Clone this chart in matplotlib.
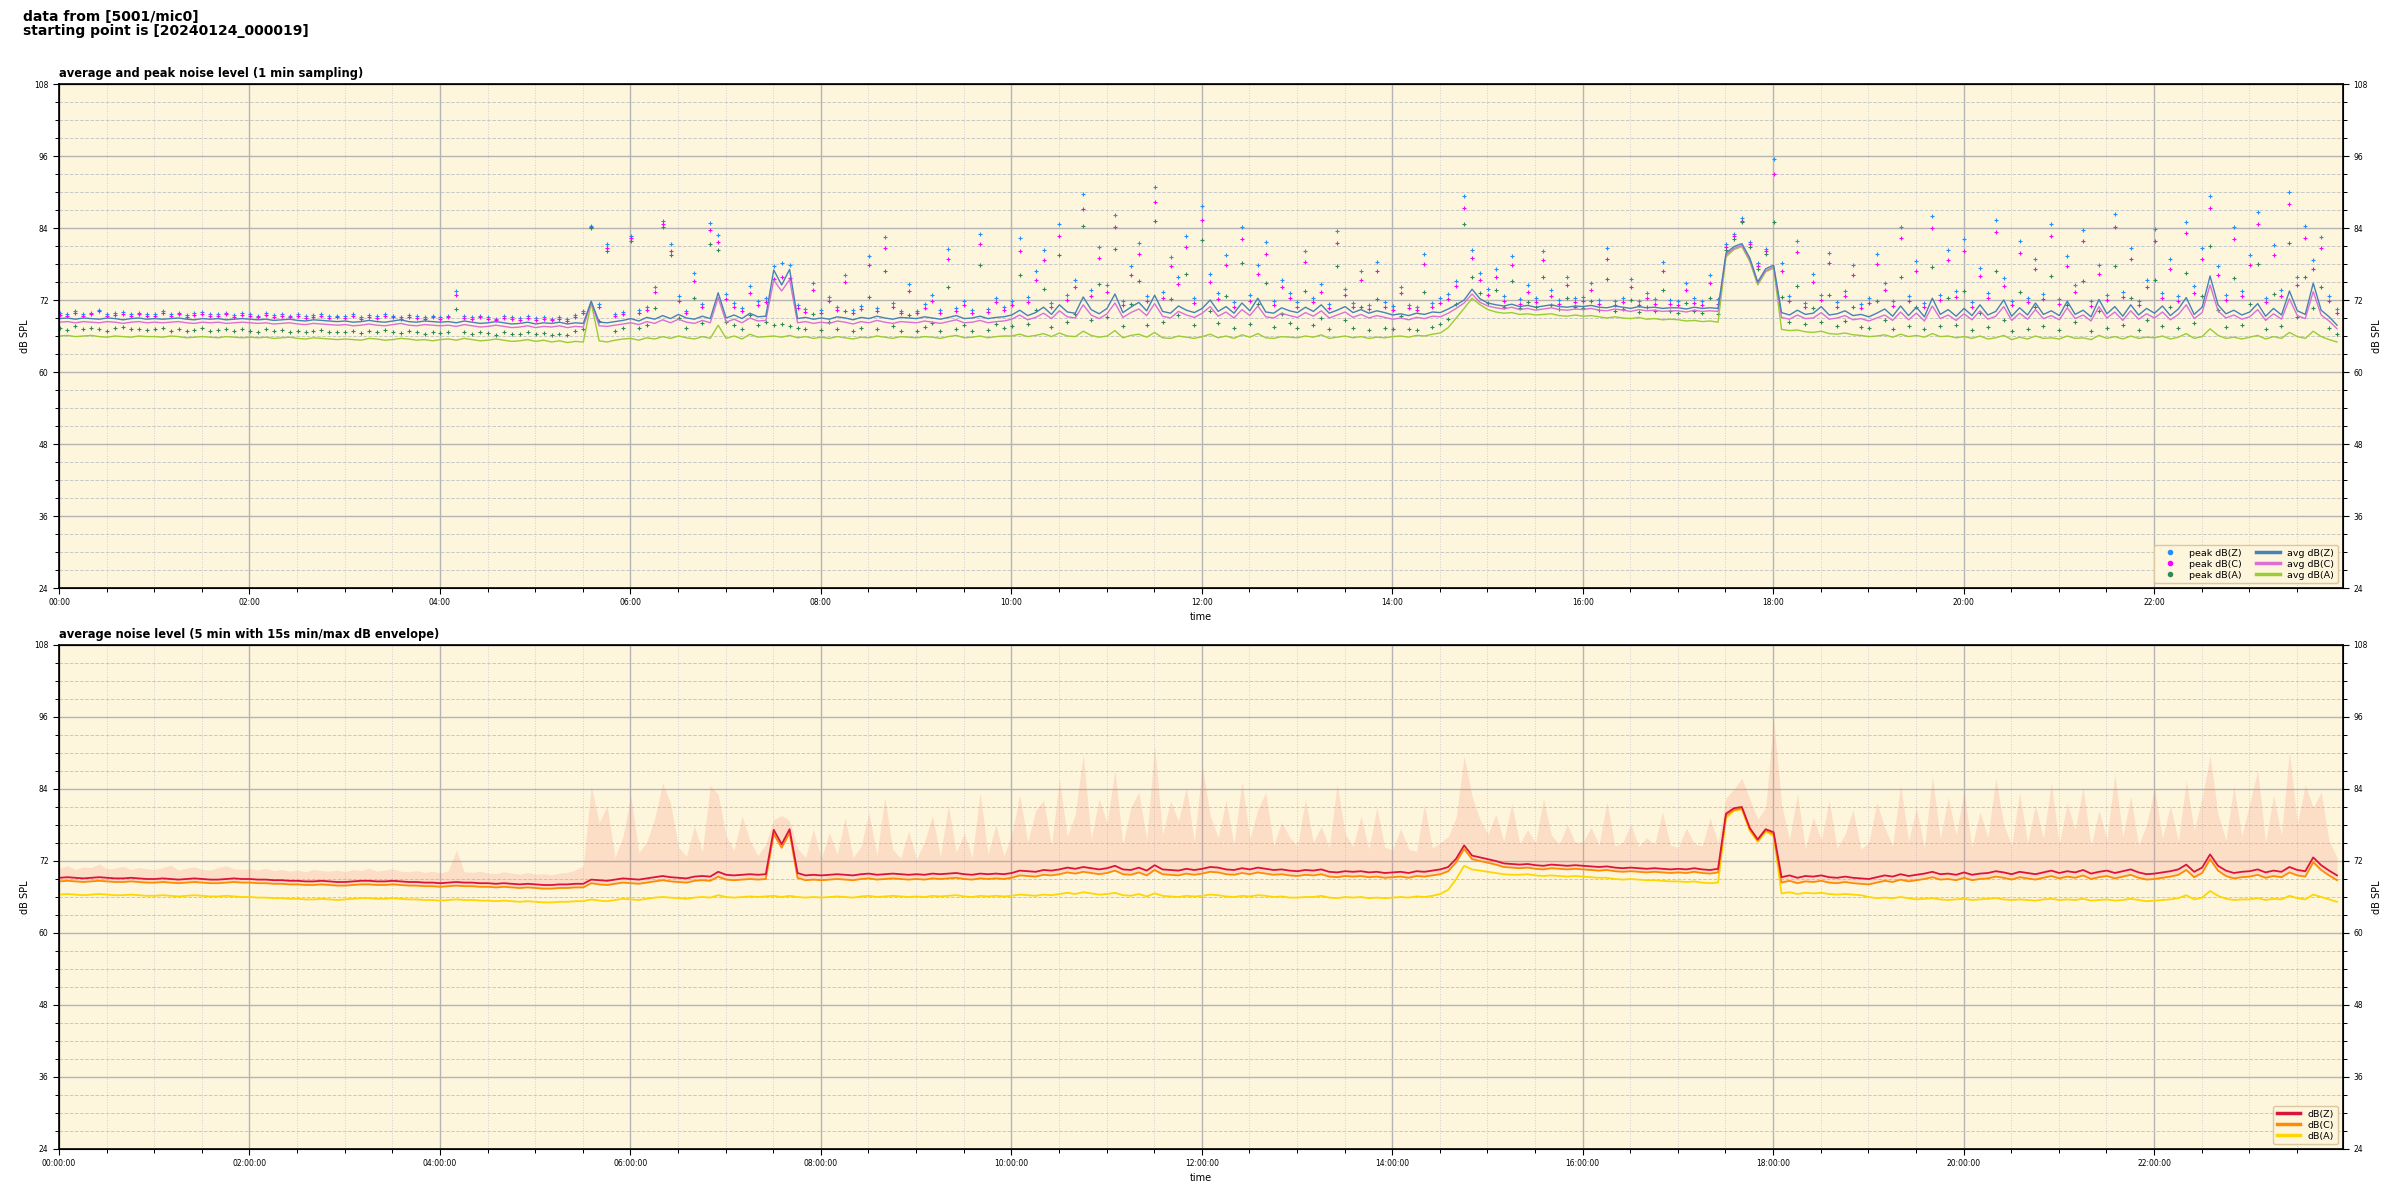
import numpy as np
import pandas as pd
import matplotlib
matplotlib.use('Agg')
import matplotlib.pyplot as plt
import matplotlib.dates as mdates
from matplotlib.ticker import MultipleLocator
from matplotlib.lines import Line2D


def vals(s):
    return np.array(s.split(), dtype=float)


# 5 min values, one line per hour (00h .. 23h)
avg_z = vals("""
68.9 69.0 68.8 69.0 68.9 68.8 69.0 68.9 68.7 68.9 69.0 68.8
68.9 68.8 68.9 69.0 68.8 68.7 68.9 68.8 68.9 68.7 68.8 68.9
68.8 68.7 68.8 68.6 68.7 68.8 68.6 68.5 68.7 68.6 68.5 68.4
68.5 68.3 68.4 68.6 68.4 68.3 68.5 68.7 68.4 68.3 68.5 68.4
68.3 68.4 68.2 68.5 68.3 68.1 68.2 68.4 68.2 68.0 68.1 68.3
68.0 68.2 68.1 68.3 68.0 68.2 68.1 71.8 68.3 68.2 68.4 68.6
68.9 68.5 69.1 68.8 69.4 68.9 69.6 69.0 68.8 69.3 68.9 73.2
69.0 69.5 68.9 69.8 69.2 69.3 77.0 74.5 77.1 68.9 69.1 68.8
69.0 68.8 69.2 69.0 68.7 69.1 68.9 69.3 69.0 68.8 69.1 69.0
68.9 69.2 69.0 68.8 69.1 69.4 68.9 69.0 69.3 68.9 69.1 69.2
69.5 70.3 69.4 69.9 70.8 69.6 71.2 70.0 69.8 72.5 70.4 69.7
70.6 73.0 69.9 70.8 71.6 70.2 72.8 70.1 69.8 71.0 70.3 69.9
70.6 72.0 70.1 70.9 69.8 71.5 70.2 72.3 70.0 69.8 70.7 70.2
69.9 70.8 70.1 71.2 69.8 70.3 70.9 69.9 70.4 69.8 70.2 69.9
69.5 69.7 69.4 69.8 69.6 70.0 69.9 70.5 71.2 72.0 73.8 72.2
71.5 71.2 71.0 71.3 70.9 71.1 70.8 71.0 71.2 70.9 70.8 71.0
70.9 71.1 70.8 70.7 71.0 70.8 70.6 70.9 70.7 70.8 70.6 70.7
70.7 70.5 70.8 70.6 70.7 70.6 79.8 80.9 81.4 79.0 75.0 77.2
77.8 69.9 69.5 70.3 69.6 69.8 70.9 69.5 69.7 70.2 69.4 69.6
69.2 69.8 70.5 69.3 71.0 69.4 70.8 69.2 72.3 69.6 70.4 69.3
70.6 69.4 71.2 69.5 70.1 72.0 69.3 70.7 69.5 71.5 69.6 70.2
69.4 71.8 69.6 70.3 69.2 72.1 69.7 70.9 69.3 71.2 69.5 70.6
69.8 71.0 69.4 70.5 72.4 69.6 70.8 76.0 71.2 69.7 70.3 69.5
70.0 71.4 69.3 70.6 69.5 73.5 70.2 69.6 74.8 70.3 69.2 67.8
""")

avg_c = vals("""
68.3 68.4 68.2 68.4 68.3 68.2 68.4 68.3 68.1 68.3 68.4 68.2
68.3 68.2 68.3 68.4 68.2 68.1 68.3 68.2 68.3 68.1 68.2 68.3
68.2 68.1 68.2 68.0 68.1 68.2 68.0 67.9 68.1 68.0 67.9 67.8
67.9 67.7 67.8 68.0 67.8 67.7 67.9 68.1 67.8 67.7 67.9 67.8
67.7 67.8 67.6 67.9 67.7 67.5 67.6 67.8 67.6 67.4 67.5 67.7
67.4 67.6 67.5 67.7 67.4 67.6 67.5 71.6 67.7 67.6 67.8 68.0
68.2 67.9 68.4 68.1 68.7 68.2 68.8 68.3 68.1 68.6 68.2 72.4
68.3 68.8 68.2 69.0 68.5 68.6 75.3 73.5 75.4 68.2 68.4 68.1
68.3 68.1 68.5 68.3 68.0 68.4 68.2 68.6 68.3 68.1 68.4 68.3
68.2 68.5 68.3 68.1 68.4 68.7 68.2 68.3 68.6 68.2 68.4 68.5
68.8 69.5 68.7 69.1 69.8 68.9 70.2 69.2 69.0 71.2 69.5 68.9
69.7 71.5 69.1 69.9 70.5 69.4 71.4 69.3 69.0 70.1 69.5 69.1
69.8 70.9 69.3 70.0 69.0 70.4 69.4 71.0 69.2 69.0 69.8 69.4
69.1 69.9 69.3 70.2 69.0 69.5 70.0 69.1 69.6 69.0 69.4 69.1
68.8 69.0 68.7 69.1 68.9 69.3 69.2 69.8 70.6 71.5 73.0 71.6
71.0 70.7 70.5 70.8 70.4 70.6 70.3 70.5 70.7 70.4 70.3 70.5
70.4 70.6 70.3 70.2 70.5 70.3 70.1 70.4 70.2 70.3 70.1 70.2
70.2 70.0 70.3 70.1 70.2 70.1 79.5 80.6 81.1 78.7 74.8 76.9
77.5 69.1 68.8 69.5 68.9 69.0 69.9 68.8 69.0 69.4 68.7 68.9
68.5 69.0 69.5 68.6 70.0 68.7 69.8 68.5 71.0 68.9 69.5 68.6
69.7 68.7 70.2 68.8 69.3 70.9 68.6 69.8 68.8 70.4 68.9 69.4
68.7 70.7 68.9 69.5 68.5 70.9 69.0 70.0 68.6 70.2 68.8 69.7
69.0 70.0 68.7 69.6 71.2 68.9 69.9 74.5 70.2 69.0 69.5 68.8
69.2 70.4 68.6 69.7 68.8 72.2 69.4 68.9 73.4 69.5 68.5 67.2
""")

avg_a = vals("""
66.0 66.1 65.9 66.0 66.1 65.9 65.8 66.0 65.9 65.8 66.0 65.9
65.9 65.8 66.0 65.9 65.7 65.8 65.9 65.8 65.7 65.9 65.8 65.7
65.8 65.7 65.8 65.6 65.7 65.8 65.6 65.5 65.7 65.6 65.5 65.4
65.5 65.4 65.3 65.6 65.5 65.3 65.4 65.6 65.5 65.3 65.4 65.2
65.4 65.5 65.3 65.6 65.4 65.2 65.3 65.5 65.3 65.1 65.2 65.4
65.1 65.3 65.0 65.2 64.9 65.1 65.0 71.5 65.2 65.0 65.3 65.5
65.6 65.3 65.7 65.5 65.9 65.6 66.0 65.7 65.5 65.9 65.6 67.8
65.6 66.0 65.5 66.3 65.8 65.9 66.0 65.8 66.1 65.7 65.9 65.6
65.8 65.6 65.9 65.7 65.5 65.8 65.7 66.0 65.8 65.6 65.9 65.8
65.7 65.9 65.8 65.6 65.9 66.1 65.7 65.8 66.0 65.7 65.9 66.0
66.0 66.3 65.9 66.1 66.4 65.9 66.5 66.0 65.9 66.8 66.1 65.8
66.0 66.9 65.7 66.1 66.3 65.8 66.6 65.7 65.6 66.0 65.8 65.6
65.9 66.3 65.7 66.0 65.6 66.2 65.8 66.4 65.7 65.6 65.9 65.8
65.7 66.0 65.8 66.2 65.6 65.8 66.0 65.7 65.9 65.6 65.8 65.7
65.9 66.0 65.8 66.1 66.0 66.3 66.5 67.4 69.0 70.6 72.3 71.2
70.4 70.0 69.8 69.9 69.6 69.7 69.5 69.6 69.7 69.4 69.3 69.5
69.3 69.4 69.2 69.0 69.2 69.0 68.9 69.1 68.8 68.9 68.7 68.8
68.7 68.5 68.6 68.4 68.5 68.3 79.2 80.4 80.9 78.4 74.5 76.7
77.3 67.1 66.9 67.0 66.7 66.6 66.8 66.4 66.3 66.5 66.2 66.1
65.9 66.0 66.2 65.8 66.3 65.9 66.1 65.8 66.4 65.9 66.0 65.7
65.9 65.6 66.0 65.5 65.7 66.1 65.4 65.8 65.5 66.0 65.6 65.7
65.5 66.0 65.6 65.7 65.4 66.1 65.6 65.9 65.5 66.0 65.6 65.8
65.7 66.0 65.5 65.8 66.4 65.6 65.9 67.2 66.1 65.6 65.8 65.5
65.8 66.1 65.5 65.9 65.6 66.6 65.9 65.6 66.8 65.9 65.4 65.0
""")

peak_z = vals("""
69.8 69.6 70.2 69.7 69.9 70.4 69.6 69.8 70.0 69.7 69.9 69.6
69.7 70.1 69.6 69.9 69.5 69.8 70.0 69.6 69.7 69.9 69.5 69.8
69.6 69.4 69.8 69.5 69.7 69.4 69.6 69.3 69.5 69.7 69.3 69.4
69.3 69.6 69.2 69.5 69.3 69.7 69.4 69.2 69.5 69.3 69.1 69.4
69.2 69.4 73.5 69.3 69.1 69.4 69.2 68.9 69.3 69.1 69.0 69.3
69.0 69.2 68.9 69.1 68.8 69.5 70.1 84.4 71.3 81.4 69.6 70.0
82.6 70.3 70.8 74.2 85.1 81.3 72.6 70.2 76.5 71.4 84.8 82.8
73.0 71.5 70.6 74.3 71.8 72.4 77.6 78.2 77.9 71.2 70.5 74.8
70.3 72.5 70.8 76.2 70.4 71.0 79.3 70.7 82.5 71.5 70.2 74.6
70.2 71.3 72.8 70.4 80.5 70.6 71.9 70.3 83.0 70.5 72.4 70.9
71.8 82.4 72.5 76.8 80.3 71.5 84.6 72.9 75.4 89.6 73.6 80.8
74.5 86.2 71.9 77.6 81.5 72.6 90.9 73.4 79.2 75.8 82.7 72.3
87.6 76.4 73.1 79.5 71.6 84.2 72.8 77.9 81.6 71.9 75.3 73.2
71.6 80.1 72.4 74.6 71.4 83.5 73.9 71.5 76.8 71.2 78.4 71.6
71.0 74.2 71.2 70.9 79.6 71.5 72.3 73.0 75.2 89.3 80.4 76.5
73.8 77.2 72.6 79.4 72.1 74.5 72.3 80.2 73.6 72.0 75.8 72.4
72.5 74.8 72.0 80.6 71.9 72.4 75.5 71.8 73.2 72.1 78.3 72.0
71.8 74.9 72.3 71.9 76.2 72.1 81.3 83.0 85.6 81.7 78.2 80.5
95.5 78.2 72.6 81.8 71.5 76.4 72.8 79.9 71.6 73.5 77.8 71.4
72.3 79.6 74.8 71.8 84.2 72.6 78.5 71.5 86.0 72.9 80.3 73.5
82.1 71.6 77.4 73.2 85.4 75.6 71.9 81.8 72.4 78.8 73.0 84.6
72.1 79.3 74.5 83.7 71.8 77.9 72.9 86.3 73.4 80.6 71.9 75.4
83.8 73.2 78.9 72.6 85.0 74.4 80.7 89.3 77.6 72.8 84.1 73.5
79.5 86.7 72.4 81.2 73.6 90.0 75.8 84.3 78.6 82.5 72.7 70.5
""")

peak_c = vals("""
69.5 69.4 69.9 69.4 69.6 70.1 69.3 69.5 69.7 69.4 69.6 69.3
69.4 69.8 69.3 69.6 69.2 69.5 69.7 69.3 69.4 69.6 69.2 69.5
69.3 69.1 69.5 69.2 69.4 69.1 69.3 69.0 69.2 69.4 69.0 69.1
69.0 69.3 68.9 69.2 69.0 69.4 69.1 68.9 69.2 69.0 68.8 69.1
68.9 69.1 72.8 69.0 68.8 69.1 68.9 68.6 69.0 68.8 68.7 69.0
68.7 68.9 68.6 68.8 68.5 69.2 69.8 84.2 70.8 80.6 69.3 69.7
82.3 69.8 70.3 73.4 84.7 80.2 71.8 69.8 75.2 70.9 83.6 81.7
72.1 70.9 70.1 73.2 71.2 71.6 75.5 75.8 75.6 70.6 70.0 73.6
69.9 71.8 70.3 75.0 69.9 70.5 77.8 70.2 80.6 70.9 69.8 73.5
69.8 70.7 71.9 69.9 78.8 70.1 71.2 69.8 81.4 70.0 71.6 70.4
71.1 80.2 71.7 75.3 78.6 70.8 82.7 72.0 74.2 87.2 72.6 79.0
73.3 84.1 71.2 76.2 79.7 71.8 88.4 72.4 77.6 74.6 80.8 71.5
85.3 75.0 72.2 77.8 70.9 82.1 71.9 76.3 79.7 71.1 74.1 72.3
70.9 78.4 71.6 73.4 70.7 81.5 72.8 70.8 75.4 70.5 76.8 70.9
70.4 73.2 70.6 70.3 78.0 70.9 71.5 72.2 74.3 87.4 79.0 75.3
72.8 75.8 71.8 77.9 71.4 73.4 71.6 78.6 72.6 71.3 74.5 71.7
71.8 73.6 71.3 78.9 71.2 71.7 74.2 71.1 72.3 71.4 76.8 71.3
71.1 73.7 71.5 71.2 74.9 71.4 80.8 82.6 85.2 81.3 77.7 80.1
93.0 76.8 71.8 80.0 70.8 75.0 72.0 78.2 70.9 72.6 76.2 70.7
71.5 78.0 73.6 71.0 82.3 71.8 76.9 70.8 84.0 72.0 78.6 72.5
80.2 70.9 76.0 72.3 83.4 74.3 71.1 79.9 71.6 77.2 72.1 82.6
71.3 77.6 73.3 81.8 71.0 76.3 72.0 84.2 72.5 78.8 71.1 74.2
81.9 72.3 77.2 71.8 83.1 73.2 78.9 87.4 76.1 72.0 82.2 72.6
77.8 84.6 71.6 79.5 72.7 88.0 74.5 82.4 77.1 80.6 71.9 69.8
""")

peak_a = vals("""
67.3 67.0 67.6 67.2 67.4 67.1 66.9 67.3 67.5 67.1 67.2 67.0
67.1 67.4 66.9 67.2 66.8 67.0 67.3 66.9 67.0 67.2 66.8 67.1
66.9 66.7 67.1 66.8 67.0 66.7 66.9 66.6 66.8 67.0 66.6 66.7
66.6 66.9 66.5 66.8 66.6 67.0 66.7 66.5 66.8 66.6 66.4 66.7
66.5 66.7 70.5 66.6 66.4 66.7 66.5 66.2 66.6 66.4 66.3 66.6
66.3 66.5 66.2 66.4 66.1 66.8 67.2 84.0 68.5 80.2 66.9 67.3
81.8 67.4 67.9 70.6 84.2 79.5 69.0 67.3 72.4 68.2 81.4 80.3
68.4 67.8 67.2 69.5 67.9 68.3 67.8 68.0 67.7 67.4 67.1 69.6
67.0 68.3 67.2 70.2 66.9 67.4 72.5 67.1 76.8 67.6 66.9 69.5
66.8 67.5 68.2 66.9 74.2 67.1 67.9 66.8 77.9 67.0 68.0 67.3
67.6 76.1 68.0 70.4 73.8 67.5 79.5 68.3 69.6 84.3 68.7 74.6
69.2 80.5 67.6 71.3 75.2 67.9 85.1 68.4 72.2 69.5 76.4 67.8
82.0 70.2 68.1 72.6 67.3 78.2 68.0 71.4 74.9 67.5 69.6 68.2
67.3 73.5 67.8 69.0 67.2 77.6 68.6 67.3 70.8 67.0 72.1 67.4
67.1 69.4 67.2 67.0 73.4 67.5 68.0 68.9 71.4 84.6 75.8 73.2
71.5 73.6 70.9 75.2 70.7 71.6 70.8 75.9 71.2 70.5 72.4 70.8
70.6 71.8 70.3 75.5 70.2 70.5 72.0 70.0 70.8 70.1 73.6 70.1
69.9 71.5 70.1 69.8 72.3 69.7 80.3 82.2 85.0 80.8 77.2 79.6
85.0 72.5 68.4 74.3 68.0 70.6 68.3 72.8 67.6 68.5 70.9 67.5
67.4 71.8 68.6 67.2 75.9 67.6 70.8 67.1 77.5 67.7 72.3 67.9
73.5 67.0 69.8 67.5 76.8 68.6 66.9 73.4 67.2 70.9 67.6 76.0
67.0 71.2 68.3 75.1 66.9 70.2 67.4 77.6 67.8 72.4 67.0 68.6
75.3 67.6 70.8 67.3 76.5 68.1 72.6 81.0 70.4 67.5 75.6 67.8
71.4 78.0 67.1 73.0 67.6 81.5 69.2 75.8 70.6 74.1 67.3 66.3
""")

# lower panel: 5 min average and 15 s max envelope
lvl_z = vals("""
69.2 69.3 69.2 69.1 69.2 69.3 69.2 69.1 69.1 69.2 69.1 69.0
69.0 69.1 69.0 68.9 69.0 69.1 69.0 68.9 68.9 69.0 69.1 69.0
69.0 68.9 68.9 68.8 68.8 68.7 68.7 68.6 68.6 68.7 68.6 68.5
68.5 68.6 68.7 68.7 68.6 68.6 68.7 68.6 68.5 68.5 68.4 68.4
68.3 68.4 68.5 68.4 68.4 68.3 68.3 68.2 68.3 68.2 68.1 68.2
68.1 68.0 68.0 68.1 68.1 68.2 68.2 68.9 68.8 68.7 68.9 69.1
69.0 68.9 69.1 69.3 69.5 69.3 69.2 69.1 69.4 69.5 69.4 70.2
69.7 69.6 69.7 69.8 69.7 69.8 77.2 74.8 77.3 70.0 69.6 69.7
69.6 69.7 69.8 69.7 69.6 69.8 69.9 69.7 69.8 69.9 69.8 69.7
69.8 69.7 69.9 69.8 69.9 70.0 69.8 69.7 69.9 69.8 69.9 69.8
70.0 70.4 70.3 70.2 70.5 70.4 70.6 70.9 70.7 71.0 70.8 70.6
70.8 71.2 70.6 70.5 70.9 70.4 71.3 70.6 70.5 70.4 70.7 70.5
70.7 71.0 70.9 70.6 70.5 70.8 70.6 70.9 70.7 70.5 70.6 70.4
70.3 70.5 70.4 70.6 70.2 70.1 70.3 70.2 70.3 70.1 70.2 70.0
70.1 70.2 70.0 70.3 70.2 70.4 70.6 71.0 72.4 74.6 72.9 72.6
72.3 72.0 71.6 71.5 71.4 71.5 71.3 71.2 71.4 71.3 71.2 71.3
71.2 71.1 71.0 71.1 70.9 70.8 70.9 70.8 70.7 70.8 70.7 70.6
70.7 70.6 70.8 70.6 70.5 70.7 79.9 80.8 81.0 77.5 75.6 77.3
76.8 69.3 69.6 69.2 69.5 69.4 69.6 69.3 69.2 69.4 69.2 69.1
69.0 69.3 69.6 69.4 69.8 69.5 69.7 69.9 70.2 69.8 69.9 69.7
70.1 69.7 69.9 70.0 70.3 70.1 69.8 70.2 70.0 69.8 70.1 70.4
70.0 70.3 70.1 70.5 69.9 70.2 70.4 70.0 70.3 70.6 70.1 69.8
69.9 70.1 70.3 70.6 71.4 70.2 70.9 73.1 71.2 70.4 70.0 70.2
70.3 70.6 70.1 70.4 70.2 71.0 70.5 70.3 72.6 71.3 70.4 69.6
""")

lvl_c = vals("""
68.6 68.7 68.6 68.5 68.6 68.7 68.6 68.5 68.5 68.6 68.5 68.4
68.4 68.5 68.4 68.3 68.4 68.5 68.4 68.3 68.3 68.4 68.5 68.4
68.4 68.3 68.3 68.2 68.2 68.1 68.1 68.0 68.0 68.1 68.0 67.9
67.9 68.0 68.1 68.1 68.0 68.0 68.1 68.0 67.9 67.9 67.8 67.8
67.7 67.8 67.9 67.8 67.8 67.7 67.7 67.6 67.7 67.6 67.5 67.6
67.5 67.4 67.4 67.5 67.5 67.6 67.6 68.3 68.1 68.0 68.2 68.4
68.3 68.2 68.4 68.6 68.8 68.6 68.5 68.4 68.7 68.8 68.7 69.4
68.9 68.8 68.9 69.0 68.9 69.0 76.5 74.2 76.7 69.2 68.8 68.9
68.8 68.9 69.0 68.9 68.8 69.0 69.1 68.9 69.0 69.1 69.0 68.9
69.0 68.9 69.1 69.0 69.1 69.2 69.0 68.9 69.1 69.0 69.1 69.0
69.2 69.6 69.5 69.4 69.7 69.6 69.8 70.1 69.9 70.2 70.0 69.8
70.0 70.4 69.8 69.7 70.1 69.6 70.5 69.8 69.7 69.6 69.9 69.7
69.9 70.2 70.1 69.8 69.7 70.0 69.8 70.1 69.9 69.7 69.8 69.6
69.5 69.7 69.6 69.8 69.4 69.3 69.5 69.4 69.5 69.3 69.4 69.2
69.3 69.4 69.2 69.5 69.4 69.6 69.8 70.3 71.8 74.0 72.3 72.0
71.7 71.4 71.0 70.9 70.8 70.9 70.7 70.6 70.8 70.7 70.6 70.7
70.6 70.5 70.4 70.5 70.3 70.2 70.3 70.2 70.1 70.2 70.1 70.0
70.1 70.0 70.2 70.0 69.9 70.1 79.6 80.5 80.8 77.3 75.4 77.1
76.5 68.4 68.7 68.3 68.6 68.5 68.7 68.4 68.3 68.5 68.3 68.2
68.1 68.4 68.7 68.5 68.9 68.6 68.8 69.0 69.3 68.9 69.0 68.8
69.2 68.8 69.0 69.1 69.4 69.2 68.9 69.3 69.1 68.9 69.2 69.5
69.1 69.4 69.2 69.6 69.0 69.3 69.5 69.1 69.4 69.7 69.2 68.9
69.0 69.2 69.4 69.7 70.5 69.3 70.0 72.3 70.4 69.5 69.1 69.3
69.4 69.7 69.2 69.5 69.3 70.1 69.6 69.4 71.8 70.5 69.6 68.8
""")

lvl_a = vals("""
66.4 66.5 66.4 66.3 66.4 66.5 66.4 66.3 66.3 66.4 66.3 66.2
66.2 66.3 66.2 66.1 66.2 66.3 66.2 66.1 66.1 66.2 66.1 66.0
66.0 65.9 65.9 65.8 65.8 65.7 65.7 65.6 65.6 65.7 65.6 65.5
65.6 65.7 65.8 65.8 65.7 65.7 65.8 65.7 65.6 65.6 65.5 65.5
65.4 65.5 65.6 65.5 65.5 65.4 65.4 65.3 65.4 65.3 65.2 65.3
65.2 65.1 65.1 65.2 65.2 65.3 65.3 65.6 65.4 65.3 65.5 65.7
65.6 65.5 65.7 65.9 66.0 65.9 65.8 65.7 65.9 66.0 65.9 66.3
66.0 65.9 66.0 66.1 66.0 66.1 66.2 66.0 66.2 66.0 65.9 66.0
65.9 66.0 66.1 66.0 65.9 66.1 66.2 66.0 66.1 66.2 66.1 66.0
66.1 66.0 66.2 66.1 66.2 66.3 66.1 66.0 66.2 66.1 66.2 66.1
66.2 66.4 66.3 66.2 66.4 66.3 66.5 66.7 66.5 66.8 66.6 66.4
66.5 66.7 66.3 66.2 66.5 66.1 66.6 66.2 66.1 66.0 66.2 66.1
66.2 66.4 66.3 66.1 66.0 66.2 66.1 66.3 66.2 66.0 66.1 65.9
65.9 66.0 66.0 66.2 65.9 65.8 66.0 65.9 66.0 65.8 65.9 65.8
65.9 66.0 65.9 66.1 66.0 66.2 66.5 67.2 69.0 71.2 70.6 70.4
70.2 70.0 69.8 69.7 69.7 69.8 69.6 69.5 69.6 69.5 69.4 69.5
69.4 69.3 69.2 69.2 69.0 68.9 69.0 68.9 68.8 68.8 68.7 68.6
68.6 68.5 68.6 68.4 68.3 68.4 79.2 80.4 80.6 77.0 75.2 76.9
76.2 66.6 66.8 66.5 66.7 66.6 66.7 66.5 66.4 66.5 66.4 66.3
66.0 65.8 65.9 65.8 66.0 65.8 65.6 65.7 65.8 65.6 65.5 65.6
65.7 65.5 65.6 65.7 65.8 65.6 65.5 65.6 65.5 65.4 65.6 65.7
65.5 65.6 65.5 65.7 65.4 65.5 65.6 65.4 65.5 65.7 65.5 65.3
65.4 65.5 65.6 65.8 66.3 65.6 65.9 67.0 66.2 65.7 65.5 65.6
65.6 65.8 65.5 65.7 65.6 66.2 65.8 65.6 66.4 66.0 65.6 65.2
""")

env_max = vals("""
70.8 71.2 70.6 71.0 70.9 71.5 70.7 70.8 71.1 70.6 70.9 70.7
70.6 70.9 71.3 70.5 70.8 71.0 70.6 70.5 70.9 71.2 70.7 70.6
70.7 70.5 70.8 70.4 70.6 70.3 70.5 70.2 70.6 70.4 70.3 70.5
70.2 70.6 70.4 70.8 70.3 70.5 70.7 70.3 70.2 70.4 70.1 70.3
70.0 70.4 73.8 70.2 70.1 70.3 70.0 69.9 70.2 70.0 69.8 70.1
69.8 69.9 69.7 70.0 70.1 70.5 71.2 84.5 78.4 81.2 72.6 76.1
82.8 73.4 75.2 79.1 85.0 81.6 74.3 72.8 77.9 73.6 84.6 83.1
76.2 73.8 79.5 75.4 72.9 74.8 78.9 79.6 78.7 74.1 72.6 77.3
72.4 76.8 73.1 79.2 72.6 74.4 80.1 73.0 82.6 73.9 72.5 77.0
72.3 75.2 79.6 72.8 81.3 73.5 76.7 72.6 83.4 73.2 78.1 72.9
76.4 83.0 75.2 80.4 82.1 74.6 85.6 76.1 79.8 89.8 75.7 82.4
78.3 87.2 74.8 80.9 83.5 75.6 91.2 76.4 82.0 78.6 84.3 75.2
87.8 79.6 75.9 82.1 74.8 85.3 75.7 80.6 83.4 74.6 78.5 76.0
74.5 82.3 75.1 77.8 74.2 84.8 76.6 74.4 79.5 74.0 80.9 74.3
73.8 77.4 74.0 73.6 81.4 74.2 75.0 76.1 79.3 89.5 82.8 78.9
76.5 79.8 75.3 81.6 74.9 77.2 75.0 82.4 76.3 74.8 78.1 75.1
75.2 77.6 74.7 81.9 74.5 75.1 78.2 74.4 75.9 74.7 80.2 74.6
74.3 77.5 74.9 74.5 79.2 75.1 82.5 84.0 85.8 82.3 79.0 80.9
95.8 81.4 75.6 83.2 74.1 79.3 75.5 82.1 74.2 76.4 80.6 74.0
75.1 81.8 77.6 74.5 84.8 75.3 80.9 74.2 86.2 75.7 82.6 76.4
83.5 74.3 80.2 75.9 85.8 78.1 74.6 83.4 75.1 81.3 75.8 85.0
74.8 81.7 77.2 84.3 74.5 80.4 75.6 86.6 76.1 82.8 74.6 78.1
84.2 75.9 81.3 75.3 85.4 77.1 82.5 89.6 79.8 75.5 84.5 76.2
81.6 87.1 75.1 83.0 76.3 90.3 78.2 84.7 80.9 83.5 75.4 72.6
""")

t = pd.date_range('2024-01-24 00:00:19', periods=len(avg_z), freq='5min')
t0 = pd.Timestamp('2024-01-24 00:00:00')
t1 = pd.Timestamp('2024-01-24 23:59:00')

bg = '#fdf6dd'

fig = plt.figure(figsize=(24, 12), dpi=100)
fig.text(0.0095, 0.992, 'data from [5001/mic0]\nstarting point is [20240124_000019]',
         fontsize=10, fontweight='bold', va='top', ha='left', linespacing=1.0)

ax1 = fig.add_axes([0.0246, 0.51, 0.9516, 0.42])
ax2 = fig.add_axes([0.0246, 0.0425, 0.9516, 0.42])


def style(ax, fmt):
    ax.set_facecolor(bg)
    ax.set_xlim(t0, t1)
    ax.set_ylim(24, 108)
    ax.yaxis.set_major_locator(MultipleLocator(12))
    ax.yaxis.set_minor_locator(MultipleLocator(3))
    ax.xaxis.set_major_locator(mdates.HourLocator(byhour=range(0, 24, 2)))
    ax.xaxis.set_minor_locator(mdates.MinuteLocator(byminute=[0, 30]))
    ax.xaxis.set_major_formatter(mdates.DateFormatter(fmt))
    ax.grid(which='major', color='#b4b4b4', lw=1.0, ls='-')
    ax.grid(which='minor', axis='y', color='#c8c8c8', lw=0.7, ls='--')
    ax.grid(which='minor', axis='x', color='#d0d0d0', lw=0.7, ls=':')
    ax.set_axisbelow(True)
    ax.tick_params(labelsize=5.5, length=4, width=0.8)
    ax.tick_params(which='minor', length=3, width=0.7)
    for sp in ax.spines.values():
        sp.set_linewidth(1.2)
    ax.set_xlabel('time', fontsize=7, labelpad=3)
    ax.set_ylabel('dB SPL', fontsize=7, labelpad=3)
    axr = ax.twinx()
    axr.set_ylim(24, 108)
    axr.yaxis.set_major_locator(MultipleLocator(12))
    axr.yaxis.set_minor_locator(MultipleLocator(3))
    axr.tick_params(labelsize=5.5, length=4, width=0.8)
    axr.tick_params(which='minor', length=3, width=0.7)
    axr.set_ylabel('dB SPL', fontsize=7, labelpad=3)
    return axr


style(ax1, '%H:%M')
style(ax2, '%H:%M:%S')

# top: peaks and averages
ax1.plot(t, peak_z, '+', color='dodgerblue', ms=2.5, mew=0.8)
ax1.plot(t, peak_c, '+', color='magenta', ms=2.5, mew=0.8)
ax1.plot(t, peak_a, '+', color='seagreen', ms=2.5, mew=0.8)
ax1.plot(t, avg_a, color='yellowgreen', lw=1.0)
ax1.plot(t, avg_c, color='orchid', lw=1.0)
ax1.plot(t, avg_z, color='steelblue', lw=1.0)
ax1.set_title('average and peak noise level (1 min sampling)', loc='left',
              fontsize=8.3, fontweight='bold', pad=5)

handles = [
    Line2D([], [], ls='', marker='o', ms=3, color='dodgerblue'),
    Line2D([], [], ls='', marker='o', ms=3, color='magenta'),
    Line2D([], [], ls='', marker='o', ms=3, color='seagreen'),
    Line2D([], [], color='steelblue', lw=2.5),
    Line2D([], [], color='orchid', lw=2.5),
    Line2D([], [], color='yellowgreen', lw=2.5),
]
labels = ['peak dB(Z)', 'peak dB(C)', 'peak dB(A)', 'avg dB(Z)', 'avg dB(C)', 'avg dB(A)']
leg = ax1.legend(handles, labels, ncol=2, loc='lower right', fontsize=6.8,
                 facecolor=bg, edgecolor='#dcc8a0', framealpha=1,
                 handlelength=2.5, columnspacing=1.5, borderpad=0.4, labelspacing=0.2)

# bottom: 5 min levels with max envelope
ax2.fill_between(t, lvl_c, env_max, color='salmon', alpha=0.2, lw=0)
ax2.plot(t, lvl_a, color='gold', lw=1.3, label='dB(A)')
ax2.plot(t, lvl_c, color='darkorange', lw=1.3, label='dB(C)')
ax2.plot(t, lvl_z, color='crimson', lw=1.3, label='dB(Z)')
ax2.set_title('average noise level (5 min with 15s min/max dB envelope)', loc='left',
              fontsize=8.3, fontweight='bold', pad=5)
h, l = ax2.get_legend_handles_labels()
leg2 = ax2.legend(h[::-1], l[::-1], loc='lower right', fontsize=6.8,
                  facecolor=bg, edgecolor='#dcc8a0', framealpha=1,
                  handlelength=2.5, borderpad=0.4, labelspacing=0.2)
for ln in leg2.get_lines():
    ln.set_linewidth(2.5)

fig.savefig('out.png', dpi=100, facecolor='white')
